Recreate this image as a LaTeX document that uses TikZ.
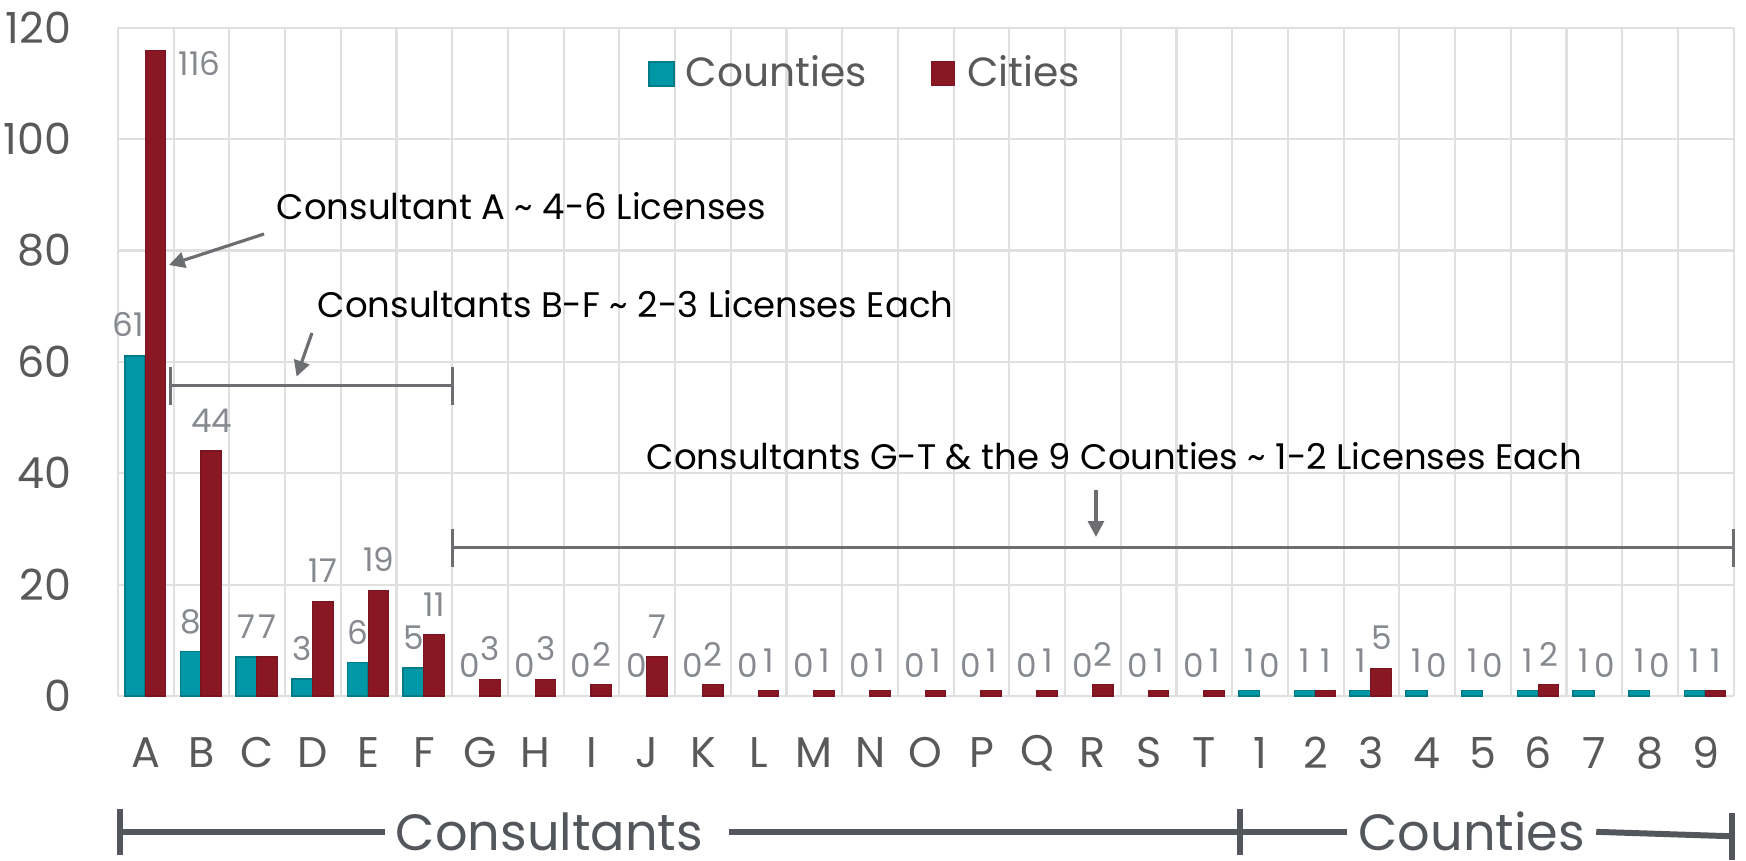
\documentclass[tikz,border=0pt]{standalone}
\usepackage{fontspec}
\setmainfont{Poppins}
\usetikzlibrary{arrows.meta}

\definecolor{cntyteal}{HTML}{0097A7}
\definecolor{cntyedge}{HTML}{007C89}
\definecolor{cityred}{HTML}{891824}
\definecolor{cityedge}{HTML}{7A1420}
\definecolor{gridgray}{HTML}{E0E0E0}
\definecolor{axisgray}{HTML}{595959}
\definecolor{lblgray}{HTML}{868A8F}
\definecolor{notegray}{HTML}{6D6E71}
\definecolor{groupgray}{HTML}{53565A}

\begin{document}
\begin{tikzpicture}[x=0.5571cm, y=0.05568cm,
  gridln/.style={gridgray, line width=0.6pt},
  cbar/.style={fill=cntyteal, draw=cntyedge, line width=0.5pt},
  tbar/.style={fill=cityred, draw=cityedge, line width=0.3pt},
  vallbl/.style={lblgray, font=\fontsize{9.3}{10}\selectfont, inner sep=0, anchor=base},
  ticklbl/.style={axisgray, font=\fontsize{12.2}{14}\selectfont, inner sep=0},
  legendlbl/.style={axisgray, font=\fontsize{11.6}{14}\selectfont, inner sep=0, anchor=base west},
  note/.style={black, font=\fontsize{10.1}{12}\selectfont, inner sep=0, anchor=base west},
  notearr/.style={notegray, line width=0.9pt, -{Triangle[length=4.5pt, width=4.5pt]}},
  bracket/.style={notegray, line width=0.9pt},
  grouplbl/.style={groupgray, font=\fontsize{14.5}{17}\selectfont, inner xsep=3pt, inner ysep=0, anchor=base},
  groupln/.style={groupgray, line width=1.7pt},
]
\useasboundingbox (-2.118,-29.63) rectangle (29.223,125);

% grid and value axis
\foreach \v in {0,20,...,120} {
  \draw[gridln] (0,\v) -- (29,\v);
  \node[ticklbl, anchor=east] (yl\v) at (-0.826,\v) {\v};
}
\foreach \i in {0,...,29} \draw[gridln] (\i,0) -- (\i,120);

% bars, value labels, categories
\foreach [count=\i from 0] \lbl/\cnty/\city in {A/61/116, B/8/44, C/7/7, D/3/17, E/6/19, F/5/11,
    G/0/3, H/0/3, I/0/2, J/0/7, K/0/2, L/0/1, M/0/1, N/0/1, O/0/1, P/0/1, Q/0/1, R/0/2, S/0/1, T/0/1,
    1/1/0, 2/1/1, 3/1/5, 4/1/0, 5/1/0, 6/1/2, 7/1/0, 8/1/0, 9/1/1} {
  \ifnum\cnty>0 \draw[cbar] (\i+0.12,0) rectangle (\i+0.49,\cnty); \fi
  \ifnum\city>0 \draw[tbar] (\i+0.49,0) rectangle (\i+0.86,\city); \fi
  \ifnum\i=0
    \node[vallbl] (cv\i) at (\i+0.18,\cnty+3.5) {\cnty};
    \node[vallbl, anchor=base west] (tv\i) at (\i+1.08,111.35) {\city};
  \else
    \node[vallbl] (cv\i) at (\i+0.31,\cnty+3.3) {\cnty};
    \node[vallbl] (tv\i) at (\i+0.68,\city+3.3) {\city};
  \fi
  \node[ticklbl] (cat\i) at (\i+0.5,-10.24) {\lbl};
}

% legend
\draw[cbar] (9.53,109.6) rectangle (9.98,113.9);
\node[legendlbl] (legC) at (10.18,109.4) {Counties};
\draw[tbar] (14.61,109.6) rectangle (15.02,113.9);
\node[legendlbl] (legT) at (15.23,109.4) {Cities};

% notes
\node[note] (noteA) at (2.836,85.5) {Consultant A \textasciitilde{} 4-6 Licenses};
\coordinate (fromA) at (2.621,82.97);
\coordinate (tipA) at (0.915,77.4);
\draw[notearr] (fromA) -- (tipA);

\node[note] (noteBF) at (3.572,67.9) {Consultants B-F \textasciitilde{} 2-3 Licenses Each};
\coordinate (fromBF) at (3.482,65.2);
\coordinate (tipBF) at (3.206,57.35);
\draw[notearr] (fromBF) -- (tipBF);
\draw[bracket] (0.94,52.3) -- (0.94,59.1) (0.94,55.7) -- (6,55.7) (6,52.3) -- (6,59.1);

\node[note] (noteGT) at (9.478,40.6) {Consultants G-T \& the 9 Counties \textasciitilde{} 1-2 Licenses Each};
\coordinate (fromGT) at (17.555,37.0);
\coordinate (tipGT) at (17.555,28.56);
\draw[notearr] (fromGT) -- (tipGT);
\draw[bracket] (6,23.2) -- (6,30) (6,26.6) -- (29,26.6) (29,23.2) -- (29,30);

% groups
\node[grouplbl] (consLbl) at (7.745,-27.8) {Consultants};
\node[grouplbl] (cntyLbl) at (24.3,-27.8) {Counties};
\coordinate (gL) at (0.03,-24.4);
\coordinate (gM) at (20.14,-24.4);
\coordinate (gR) at (28.98,-25.2);
\draw[groupln] (gL) -- (gL -| consLbl.west);
\draw[groupln] ([xshift=1.5mm]gL -| consLbl.east) -- (gM);
\draw[groupln] (gM) -- (gM -| cntyLbl.west);
\draw[groupln] (gM -| cntyLbl.east) -- (gR);
\draw[groupln] (gL) ++(0,4.15) -- ++(0,-8.4);
\draw[groupln] (gM) ++(0,4.15) -- ++(0,-8.4);
\draw[groupln] (gR) ++(0,4.15) -- ++(0,-8.4);
\end{tikzpicture}
\end{document}
